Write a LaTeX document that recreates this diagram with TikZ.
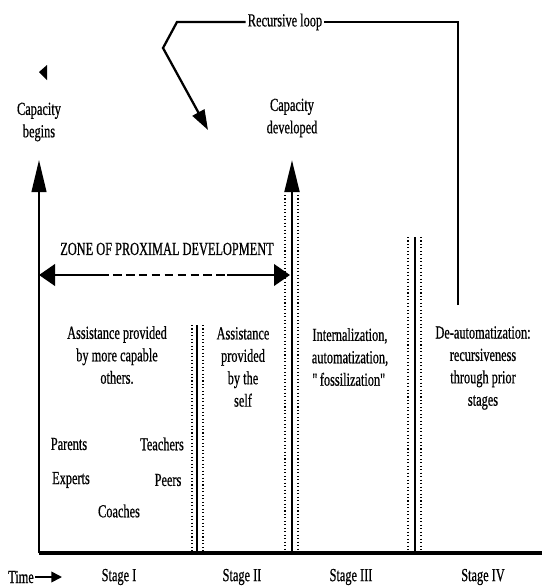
\documentclass[tikz,border=0pt]{standalone}
\usepackage{fontspec}
\setmainfont{Liberation Serif}[FakeStretch=0.67,FakeBold=0.6]
\usepackage{tikz}
\usetikzlibrary{arrows.meta,positioning}

\begin{document}
\begin{tikzpicture}[x=0.75pt,y=-0.75pt,
  lbl/.style={font=\fontsize{13.8}{16.8}\selectfont, align=center, inner sep=0pt},
  axisline/.style={line width=1.5pt},
  divline/.style={line width=2.2pt},
  dotline/.style={line width=0.8pt, dash pattern=on 0.8pt off 1.8pt},
  loopline/.style={line width=1.7pt},
  zpdline/.style={line width=2.2pt},
  bigtip/.style={-{Triangle[length=24pt,width=11pt]}}]
\useasboundingbox (0,0) rectangle (542,586);

% Axes
\coordinate (orig) at (39,553);
\coordinate (baseend) at (542,553);
\coordinate (begintop) at (39,160);
\draw[line width=2.4pt] (orig) -- (baseend);
\draw[axisline, bigtip] (orig) -- (begintop);
\fill (39,72) -- (47,65) -- (47,80) -- cycle;

% Stage dividers
\coordinate (devbot) at (292,553);
\coordinate (devtop) at (292,160);
\draw[dotline] (285,195) -- (285,553);
\draw[dotline] (298,195) -- (298,553);
\draw[divline, bigtip] (devbot) -- (devtop);

\draw[dotline] (192,325) -- (192,553);
\draw[dotline] (203,325) -- (203,553);
\draw[divline] (197,325) -- (197,553);

\draw[dotline] (408,237) -- (408,553);
\draw[dotline] (421,237) -- (421,553);
\draw[divline] (415,237) -- (415,553);

% Top labels
\node[lbl] (capbegins) at (39,122) {Capacity\\begins};
\node[lbl] (capdev) at (292,118) {Capacity\\developed};

% Recursive loop
\node[lbl, fill=white, inner sep=1.5pt] (loop) at (285,22) {Recursive loop};
\coordinate (loopbot) at (458,305);
\coordinate (loopcorner) at (458,22);
\coordinate (bendA) at (177,22);
\coordinate (bendB) at (163,48);
\coordinate (looptip) at (208,130);
\draw[loopline] (loopbot) -- (loopcorner) -- (loop.east);
\draw[loopline, -{Triangle[length=15pt,width=10pt]}] (loop.west) -- (bendA) -- (bendB) -- (looptip);

% Zone of proximal development
\node[lbl, font=\fontsize{13.8}{16}\selectfont] (zpd) at (167,249) {ZONE OF PROXIMAL DEVELOPMENT};
\coordinate (zpdleft) at (39,275);
\coordinate (zpdright) at (290,275);
\coordinate (dashA) at (100,275);
\coordinate (dashB) at (227,275);
\draw[zpdline, {Triangle[length=12pt,width=16pt]}-] (zpdleft) -- (dashA);
\draw[zpdline, dash pattern=on 6.5pt off 3.2pt] (dashA) -- (dashB);
\draw[zpdline, -{Triangle[length=12pt,width=16pt]}] (dashB) -- (zpdright);

% Stage texts
\node[lbl] (others) at (117,355) {Assistance provided\\by more capable\\others.};
\node[lbl] (self) at (243,367) {Assistance\\provided\\by the\\self};
\node[lbl] (intern) at (350,357) {Internalization,\\automatization,\\\textquotedbl fossilization\textquotedbl};
\node[lbl] (deauto) at (483,368) {De-automatization:\\recursiveness\\through prior\\stages};

\node[lbl] (parents) at (69,444) {Parents};
\node[lbl] (teachers) at (162,444) {Teachers};
\node[lbl] (experts) at (71,480) {Experts};
\node[lbl] (peers) at (168,480) {Peers};
\node[lbl] (coaches) at (119,511) {Coaches};

% Time line
\node[lbl] (time) at (21,577) {Time};
\coordinate (timeend) at (62,577);
\draw[line width=1.3pt, -{Triangle[length=8pt,width=8pt]}] (time.east) ++(1,0) -- (timeend);
\node[lbl] (stageI) at (119,577) {Stage I};
\node[lbl] (stageII) at (242,577) {Stage II};
\node[lbl] (stageIII) at (351,577) {Stage III};
\node[lbl] (stageIV) at (483,577) {Stage IV};
\end{tikzpicture}
\end{document}
